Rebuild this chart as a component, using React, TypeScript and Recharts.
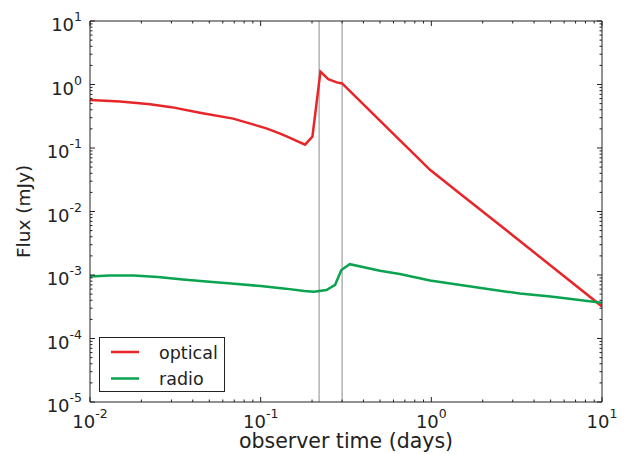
import React from 'react';
import { LineChart, Line, XAxis, YAxis, ReferenceLine, Legend } from 'recharts';

// observer time (days) vs flux (mJy)
const opticalTime = [0.01, 0.015, 0.0225, 0.03, 0.044, 0.069, 0.108, 0.13, 0.142, 0.182, 0.201, 0.224, 0.249, 0.279, 0.3, 0.4, 0.573, 0.8, 0.982, 1.5, 3.3, 10];
const opticalFlux = [0.57, 0.54, 0.49, 0.44, 0.36, 0.29, 0.204, 0.168, 0.152, 0.113, 0.151, 1.59, 1.21, 1.08, 1.04, 0.486, 0.188, 0.078, 0.0454, 0.0184, 0.00343, 0.00032];

const radioTime = [0.01, 0.013, 0.018, 0.025, 0.035, 0.05, 0.07, 0.1, 0.14, 0.18, 0.205, 0.243, 0.273, 0.297, 0.333, 0.5, 0.654, 0.982, 2.0, 3.3, 5, 10];
const radioFlux = [9.5e-4, 9.8e-4, 9.8e-4, 9.3e-4, 8.5e-4, 7.8e-4, 7.3e-4, 6.7e-4, 6.1e-4, 5.6e-4, 5.45e-4, 5.8e-4, 7.0e-4, 1.2e-3, 1.48e-3, 1.17e-3, 1.04e-3, 8.2e-4, 6.2e-4, 5.1e-4, 4.6e-4, 3.65e-4];

// the two vertical markers
const markerTimes = [0.22, 0.3];

// axis ticks
const xMajor = [0.01, 0.1, 1, 10];
const yMajor = [1e-5, 1e-4, 1e-3, 1e-2, 1e-1, 1, 10];
const minorMult = [2, 3, 4, 5, 6, 7, 8, 9];

const withMinor = (majors: number[]) => [
  ...majors,
  ...majors.slice(0, -1).flatMap((d) => minorMult.map((m) => +(m * d).toPrecision(3))),
];
const xTicks = withMinor(xMajor);
const yTicks = withMinor(yMajor);

const opticalData = opticalTime.map((t, i) => ({ t, f: opticalFlux[i] }));
const radioData = radioTime.map((t, i) => ({ t, f: radioFlux[i] }));

const FONT = '"DejaVu Sans", "Bitstream Vera Sans", sans-serif';
const INK = '#222';
const RED = '#e8262a';
const GREEN = '#0aa34f';

const expOf = (v: number) => Math.round(Math.log10(v));
const isMajor = (v: number) => Math.abs(Math.log10(v) - expOf(v)) < 1e-6;

function Power({ x, y, v, anchor }: any) {
  return (
    <text x={x} y={y} textAnchor={anchor} fontFamily={FONT} fontSize={18} fill={INK}>
      10
      <tspan dy={-10} fontSize={12.5}>
        {expOf(v)}
      </tspan>
    </text>
  );
}

const BottomTick = ({ x, y, payload }: any) => {
  const major = isMajor(payload.value);
  return (
    <g>
      <line x1={x} x2={x} y1={y} y2={y - (major ? 5 : 2.5)} stroke={INK} />
      {major && <Power x={x} y={y + 26} v={payload.value} anchor="middle" />}
    </g>
  );
};

const TopTick = ({ x, y, payload }: any) => (
  <line x1={x} x2={x} y1={y} y2={y + (isMajor(payload.value) ? 5 : 2.5)} stroke={INK} />
);

const LeftTick = ({ x, y, payload }: any) => {
  const major = isMajor(payload.value);
  return (
    <g>
      <line x1={x} x2={x + (major ? 5 : 2.5)} y1={y} y2={y} stroke={INK} />
      {major && <Power x={x - 8} y={y + 10} v={payload.value} anchor="end" />}
    </g>
  );
};

const RightTick = ({ x, y, payload }: any) => (
  <line x1={x} x2={x - (isMajor(payload.value) ? 5 : 2.5)} y1={y} y2={y} stroke={INK} />
);

const LegendBox = ({ payload }: any) => (
  <svg width={127} height={56} style={{ display: 'block' }}>
    <rect x={0.5} y={0.5} width={125} height={54} fill="#fff" stroke={INK} />
    {(payload ?? []).map((p: any, i: number) => {
      const cy = 15 + i * 26.5;
      return (
        <g key={p.value}>
          <line x1={12} x2={40} y1={cy} y2={cy} stroke={p.color} strokeWidth={2.5} />
          <text x={60} y={cy + 6.5} fontFamily={FONT} fontSize={17.5} fill={INK}>
            {p.value}
          </text>
        </g>
      );
    })}
  </svg>
);

export default function App() {
  return (
    <div style={{ position: 'absolute', left: 0, top: 0, width: 627, height: 454, background: '#fff' }}>
      <LineChart width={627} height={454} margin={{ top: 20, right: 24, bottom: 0, left: 0 }}>
        <XAxis
          dataKey="t"
          type="number"
          scale="log"
          domain={[0.01, 10]}
          allowDataOverflow
          ticks={xTicks}
          interval={0}
          height={52}
          tickSize={0}
          tickMargin={0}
          tickLine={false}
          tick={BottomTick}
          axisLine={{ stroke: INK }}
          label={{
            content: ({ viewBox }: any) => (
              <text
                x={viewBox.x + viewBox.width / 2}
                y={viewBox.y + 46}
                textAnchor="middle"
                fontFamily={FONT}
                fontSize={20.5}
                fill={INK}
              >
                observer time (days)
              </text>
            ),
          }}
        />
        <XAxis
          xAxisId="top"
          orientation="top"
          dataKey="t"
          type="number"
          scale="log"
          domain={[0.01, 10]}
          allowDataOverflow
          ticks={xTicks}
          interval={0}
          height={1}
          tickSize={0}
          tickMargin={0}
          tickLine={false}
          tick={TopTick}
          axisLine={{ stroke: INK }}
        />
        <YAxis
          type="number"
          scale="log"
          domain={[1e-5, 10]}
          allowDataOverflow
          ticks={yTicks}
          interval={0}
          width={90}
          tickSize={0}
          tickMargin={0}
          tickLine={false}
          tick={LeftTick}
          axisLine={{ stroke: INK }}
          label={{
            content: ({ viewBox }: any) => (
              <text
                transform={`translate(${viewBox.x + 30},${viewBox.y + viewBox.height / 2}) rotate(-90)`}
                textAnchor="middle"
                fontFamily={FONT}
                fontSize={18.5}
                fill={INK}
              >
                Flux (mJy)
              </text>
            ),
          }}
        />
        <YAxis
          yAxisId="right"
          orientation="right"
          type="number"
          scale="log"
          domain={[1e-5, 10]}
          allowDataOverflow
          ticks={yTicks}
          interval={0}
          width={1}
          tickSize={0}
          tickMargin={0}
          tickLine={false}
          tick={RightTick}
          axisLine={{ stroke: INK }}
        />
        {markerTimes.map((t) => (
          <ReferenceLine key={t} x={t} stroke="#8c8c8c" strokeWidth={1} />
        ))}
        <Line
          data={opticalData}
          dataKey="f"
          name="optical"
          type="linear"
          stroke={RED}
          strokeWidth={2.5}
          dot={false}
          isAnimationActive={false}
        />
        <Line
          data={radioData}
          dataKey="f"
          name="radio"
          type="linear"
          stroke={GREEN}
          strokeWidth={2.5}
          dot={false}
          isAnimationActive={false}
        />
        <Legend
          layout="vertical"
          align="center"
          verticalAlign="middle"
          wrapperStyle={{ left: 99, top: 337, width: 127, height: 56 }}
          content={LegendBox}
        />
      </LineChart>
    </div>
  );
}
